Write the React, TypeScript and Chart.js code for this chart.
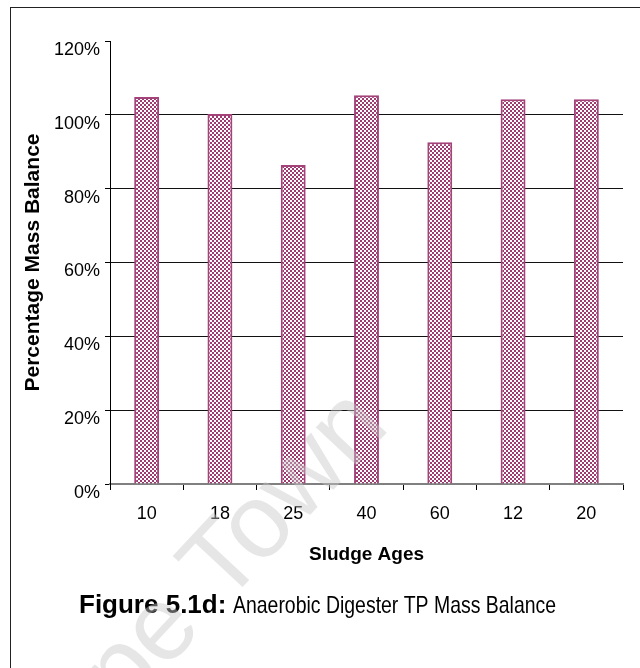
import React, { useEffect, useRef } from "react";
import { Chart, registerables } from "chart.js";

Chart.register(...registerables);

// Sludge ages (days) in the order the runs were reported
const sludgeAges: string[] = ["10", "18", "25", "40", "60", "12", "20"];
// TP mass balance closure for each run, in percent
const massBalance: number[] = [104.8, 100.2, 86.4, 105.3, 92.6, 104.2, 104.2];
// Y axis range and step, in percent
const yMin = 0;
const yMax = 120;
const yStep = 20;

const captionBold = "Figure 5.1d:";
const captionText = "Anaerobic Digester TP Mass Balance";
const watermarkText = "Cape Town";

const FONT = '"Liberation Sans", Arial, sans-serif';

function makeChecker(): CanvasPattern | string {
  const c = document.createElement("canvas");
  c.width = 4;
  c.height = 4;
  const g = c.getContext("2d");
  if (!g) return "#b0507f";
  g.fillStyle = "#ffffff";
  g.fillRect(0, 0, 4, 4);
  g.fillStyle = "#9e3a70";
  g.fillRect(0, 0, 2, 2);
  g.fillRect(2, 2, 2, 2);
  return g.createPattern(c, "repeat") || "#b0507f";
}

const overlayPlugin = {
  id: "captionAndMark",
  afterDraw(chart: any) {
    const ctx: CanvasRenderingContext2D = chart.ctx;
    // figure caption below the chart
    ctx.save();
    ctx.fillStyle = "#000";
    ctx.textBaseline = "alphabetic";
    ctx.textAlign = "left";
    ctx.font = `bold 26px ${FONT}`;
    ctx.fillText(captionBold, 79, 613);
    ctx.translate(233, 613);
    ctx.scale(0.81, 1);
    ctx.font = `24px ${FONT}`;
    ctx.fillText(captionText, 0, 0);
    ctx.restore();

    // faint diagonal watermark
    ctx.save();
    ctx.translate(33, 812);
    ctx.rotate((-47 * Math.PI) / 180);
    ctx.font = `105px ${FONT}`;
    ctx.fillStyle = "rgba(200,200,200,0.45)";
    ctx.textBaseline = "alphabetic";
    ctx.fillText(watermarkText, 0, 0);
    ctx.restore();
  },
};

export default function App() {
  const ref = useRef<HTMLCanvasElement | null>(null);

  useEffect(() => {
    document.body.style.margin = "0";
    const canvas = ref.current;
    if (!canvas) return;
    const fill = makeChecker();

    const chart = new Chart(canvas, {
      type: "bar",
      data: {
        labels: sludgeAges,
        datasets: [
          {
            data: massBalance,
            backgroundColor: fill as any,
            borderColor: "#a3437a",
            borderWidth: 2,
            categoryPercentage: 1,
            barPercentage: 0.34,
          },
        ],
      },
      plugins: [overlayPlugin],
      options: {
        responsive: false,
        animation: false,
        events: [],
        layout: { padding: { left: 0, top: 41, right: 17, bottom: 0 } },
        plugins: {
          legend: { display: false },
          tooltip: { enabled: false },
          title: { display: false },
        },
        scales: {
          x: {
            offset: true,
            afterFit: (s: any) => {
              s.height = 184;
            },
            grid: {
              offset: true,
              drawOnChartArea: false,
              drawTicks: true,
              tickLength: 6,
              color: "#000",
              tickColor: "#000",
            },
            border: { display: true, color: "#808080", width: 2 },
            ticks: {
              color: "#000",
              padding: 13,
              font: { family: FONT, size: 18 },
              maxRotation: 0,
            },
            title: {
              display: true,
              text: "Sludge Ages",
              color: "#000",
              font: { family: FONT, size: 19, weight: "bold" },
              padding: { top: 0, bottom: 101.6 },
            },
          },
          y: {
            min: yMin,
            max: yMax,
            afterFit: (s: any) => {
              s.width = 110;
            },
            grid: {
              drawTicks: true,
              tickLength: 5,
              color: (c: any) =>
                c.tick && (c.tick.value === yMin || c.tick.value === yMax)
                  ? "rgba(0,0,0,0)"
                  : "#111",
              tickColor: "#000",
              lineWidth: 1,
            },
            border: { display: true, color: "#000", width: 1 },
            ticks: {
              stepSize: yStep,
              color: "#000",
              padding: 5,
              labelOffset: 9,
              font: { family: FONT, size: 18 },
              callback: (v: any) => `${v}%`,
            },
            title: {
              display: true,
              text: "Percentage Mass Balance",
              color: "#000",
              font: { family: FONT, size: 21, weight: "bold" },
              padding: { top: 20.4, bottom: 0 },
            },
          },
        },
      },
    });

    return () => chart.destroy();
  }, []);

  return (
    <div style={{ position: "relative", width: 640, height: 668, overflow: "hidden", background: "#fff" }}>
      <canvas ref={ref} width={640} height={668} style={{ position: "absolute", left: 0, top: 0 }} />
      <div
        style={{
          position: "absolute",
          left: 10,
          top: 7,
          width: 800,
          height: 800,
          borderLeft: "1.5px solid #222",
          borderTop: "1.5px solid #222",
          pointerEvents: "none",
        }}
      />
    </div>
  );
}
